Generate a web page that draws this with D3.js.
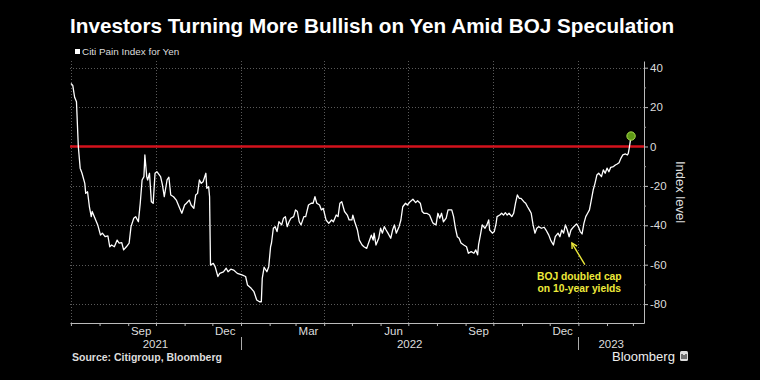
<!DOCTYPE html>
<html>
<head>
<meta charset="utf-8">
<script src="https://cdn.jsdelivr.net/npm/d3@7"></script>
<style>
  body { margin: 0; background: #000; }
  svg { display: block; font-family: "Liberation Sans Narrow", "Liberation Sans", Arial, sans-serif; }
</style>
</head>
<body>
<script>
// Citi Pain Index for Yen
const dates = [
  "2021-07-01","2021-07-03","2021-07-05","2021-07-07","2021-07-09","2021-07-11","2021-07-13","2021-07-16","2021-07-17","2021-07-19","2021-07-21","2021-07-23","2021-07-24","2021-07-27","2021-07-30",
  "2021-08-02","2021-08-04","2021-08-07","2021-08-10","2021-08-12","2021-08-14","2021-08-17","2021-08-20","2021-08-22","2021-08-25","2021-08-27","2021-08-30",
  "2021-09-02","2021-09-04","2021-09-07","2021-09-09","2021-09-12","2021-09-14","2021-09-16","2021-09-18","2021-09-19","2021-09-21","2021-09-22","2021-09-24","2021-09-26","2021-09-28","2021-09-30",
  "2021-10-02","2021-10-06","2021-10-08","2021-10-10","2021-10-13","2021-10-15","2021-10-17","2021-10-20","2021-10-23","2021-10-26","2021-10-29",
  "2021-11-01","2021-11-03","2021-11-06","2021-11-08","2021-11-11","2021-11-13","2021-11-15","2021-11-17","2021-11-19","2021-11-21","2021-11-24","2021-11-25","2021-11-27","2021-11-28","2021-11-29",
  "2021-12-02","2021-12-04","2021-12-07","2021-12-09","2021-12-13","2021-12-16","2021-12-18","2021-12-21","2021-12-24","2021-12-28",
  "2022-01-02","2022-01-06","2022-01-08","2022-01-12","2022-01-15","2022-01-18","2022-01-21","2022-01-23","2022-01-24","2022-01-26","2022-01-29","2022-01-31",
  "2022-02-02","2022-02-03","2022-02-05","2022-02-07","2022-02-09","2022-02-11","2022-02-14","2022-02-16","2022-02-18","2022-02-20","2022-02-22","2022-02-24","2022-02-27",
  "2022-03-01","2022-03-03","2022-03-05","2022-03-07","2022-03-10","2022-03-12","2022-03-15","2022-03-18","2022-03-20","2022-03-22","2022-03-24","2022-03-27","2022-03-29","2022-03-31",
  "2022-04-03","2022-04-06","2022-04-09","2022-04-11","2022-04-14","2022-04-16","2022-04-18","2022-04-20","2022-04-23","2022-04-26","2022-04-28",
  "2022-05-01","2022-05-02","2022-05-04","2022-05-07","2022-05-09","2022-05-12","2022-05-14","2022-05-17","2022-05-19","2022-05-22","2022-05-24","2022-05-25","2022-05-27","2022-05-30",
  "2022-06-01","2022-06-03","2022-06-05","2022-06-07","2022-06-09","2022-06-12","2022-06-14","2022-06-16","2022-06-18","2022-06-21","2022-06-23","2022-06-25","2022-06-28","2022-06-30",
  "2022-07-03","2022-07-06","2022-07-09","2022-07-11","2022-07-14","2022-07-16","2022-07-18","2022-07-21","2022-07-24","2022-07-27","2022-07-28","2022-07-31",
  "2022-08-02","2022-08-04","2022-08-06","2022-08-08","2022-08-11","2022-08-13","2022-08-17","2022-08-19","2022-08-21","2022-08-23","2022-08-25","2022-08-27","2022-08-30",
  "2022-09-02","2022-09-04","2022-09-07","2022-09-10","2022-09-12","2022-09-14","2022-09-15","2022-09-17","2022-09-19","2022-09-22","2022-09-24","2022-09-26","2022-09-27","2022-09-30",
  "2022-10-02","2022-10-04","2022-10-05","2022-10-08","2022-10-10","2022-10-12","2022-10-14","2022-10-16","2022-10-18","2022-10-21","2022-10-23","2022-10-25","2022-10-27","2022-10-29","2022-10-31",
  "2022-11-03","2022-11-05","2022-11-07","2022-11-09","2022-11-11","2022-11-13","2022-11-15","2022-11-17","2022-11-19","2022-11-22","2022-11-25","2022-11-27","2022-11-30",
  "2022-12-02","2022-12-05","2022-12-07","2022-12-10","2022-12-12","2022-12-14","2022-12-16","2022-12-18","2022-12-20","2022-12-22","2022-12-24","2022-12-27","2022-12-30",
  "2023-01-01","2023-01-03","2023-01-05","2023-01-07","2023-01-09","2023-01-11","2023-01-13","2023-01-15","2023-01-17","2023-01-19","2023-01-21","2023-01-23","2023-01-26","2023-01-28","2023-01-30",
  "2023-02-01","2023-02-03","2023-02-05","2023-02-08","2023-02-10","2023-02-12","2023-02-14","2023-02-16","2023-02-18","2023-02-21","2023-02-23","2023-02-24","2023-02-25","2023-02-27"
];
const values = [
  32, 31, 25, 22.7, 0, -11, -13.6, -18.7, -23.8, -23, -30.6, -35.6, -33, -36.4, -39.8,
  -45, -44, -45.8, -45.4, -50.9, -50, -50.9, -47.5, -49, -48.8, -52.5, -50.9,
  -49, -40.7, -36.4, -35.6, -38.2, -28.8, -17, -15.3, -4.3, -15.3, -17, -13.6, -28, -28.8, -13.6,
  -12.8, -15.3, -19.5, -25.5, -17, -15.6, -24.6, -25.5, -27.2, -30.6, -33.9,
  -29.7, -28.8, -27.2, -29.7, -31.4, -24.6, -23.8, -17, -18.7, -17.9, -13.6, -21.2, -20.4, -25.5, -60.2,
  -59.3, -61, -66, -64.4, -63.6, -61.8, -63.6, -62.3, -62.7, -64.4,
  -65.2, -66, -70.3, -72, -73.7, -77.9, -78.8, -78.8, -66.9, -61.3, -63.6, -61,
  -50.9, -49, -41.5, -40.7, -43.2, -38.2, -39.8, -36.4, -35.6, -40.7, -38.2, -36.4, -35.6,
  -32.2, -33, -38.2, -39.8, -35.6, -35.6, -29.7, -28.8, -28.8, -25.5, -28.8, -29.7, -32.2, -31.4,
  -37.3, -39, -37.3, -38.2, -34.8, -35.6, -28.8, -28, -33, -34.8, -37.3,
  -37.3, -34.8, -38.2, -42.4, -47.5, -50, -50.9, -51.7, -49, -45, -47.5, -44, -50, -46.6,
  -41.5, -44, -40.7, -42.4, -44, -46.6, -42.4, -39.8, -44, -40.7, -37.3, -30.6, -28.8, -29.7,
  -28, -26.8, -28.5, -27.5, -28.8, -33, -33.9, -33.9, -34.8, -38.2, -39, -39.8,
  -33.9, -36.4, -33.9, -38.2, -36.4, -32.2, -32.2, -35.6, -41.5, -45.8, -46.6, -49, -50,
  -50.9, -54.2, -53.4, -54.2, -52.5, -55, -50, -45, -39.8, -41.5, -39.8, -37.3, -42.4, -44,
  -43.2, -39, -35.6, -34.8, -33.9, -34.8, -33.6, -34.8, -33.9, -35.6, -33.9, -28.8, -24.6, -26.3, -26.3,
  -28, -28.8, -30.6, -32.2, -33.9, -39.8, -44, -41.5, -40.7, -41.5, -41, -42.4, -45,
  -47.5, -50, -45.8, -44, -45.8, -42.4, -44, -39.8, -42.4, -45.8, -42.4, -40.7, -39.3,
  -40.7, -43.2, -44.4, -39, -35.6, -33.9, -32.2, -27.2, -22.1, -18.7, -14.5, -13.6, -15.3, -11.9, -13.6,
  -11, -12.8, -10.6, -10.2, -9.4, -8.9, -8.2, -6, -4.3, -3.8, -4.3, -3.5, -0.9, 5.3
];
const yTicks = [-80, -60, -40, -20, 0, 20, 40];
const yMinorTicks = [-70, -50, -30, -10, 10, 30];
const monthNames = ["Sep", "Dec", "Mar", "Jun", "Sep", "Dec"];
const monthDates = ["2021-09-15", "2021-12-15", "2022-03-15", "2022-06-15", "2022-09-15", "2022-12-15"];
const years = ["2021", "2022", "2023"];

const parse = d3.timeParse("%Y-%m-%d");
const data = dates.map((d, i) => ({ date: parse(d), value: values[i] }));

const W = 760, H = 380;
const plotL = 70, plotR = 644, plotT = 61, plotB = 323;
const start = parse("2021-06-30"), end = parse("2023-03-13");

const x = d3.scaleTime().domain([start, end]).range([plotL, plotR]);
const y = d3.scaleLinear().domain([-89.6, 43.4]).range([plotB, plotT]);

const svg = d3.select("body").append("svg")
  .attr("width", W)
  .attr("height", H);

svg.append("rect").attr("width", W).attr("height", H).attr("fill", "#000");

// title + legend
svg.append("text")
  .attr("x", 70).attr("y", 33)
  .attr("fill", "#fff")
  .attr("font-size", 20.7)
  .attr("font-weight", "bold")
  .text("Investors Turning More Bullish on Yen Amid BOJ Speculation");

svg.append("rect")
  .attr("x", 75).attr("y", 49).attr("width", 5).attr("height", 5)
  .attr("fill", "#fff");
svg.append("text")
  .attr("x", 82).attr("y", 55)
  .attr("fill", "#ddd")
  .attr("font-size", 9.9)
  .text("Citi Pain Index for Yen");

// grid
const grid = svg.append("g")
  .attr("stroke", "#5a5a5a")
  .attr("stroke-dasharray", "1,2")
  .attr("stroke-width", 1);

grid.selectAll("line.h")
  .data(yTicks.filter(d => d !== 0))
  .join("line")
  .attr("x1", plotL).attr("x2", plotR)
  .attr("y1", d => Math.round(y(d)) + 0.5)
  .attr("y2", d => Math.round(y(d)) + 0.5);

grid.selectAll("line.v")
  .data(d3.timeMonth.every(3).range(start, end))
  .join("line")
  .attr("x1", d => Math.round(x(d)) + 0.5)
  .attr("x2", d => Math.round(x(d)) + 0.5)
  .attr("y1", plotT).attr("y2", plotB);

// zero line
svg.append("line")
  .attr("x1", plotL).attr("x2", plotR)
  .attr("y1", y(0)).attr("y2", y(0))
  .attr("stroke", "#d4121c")
  .attr("stroke-width", 2.4);

// the series
const line = d3.line()
  .x(d => x(d.date))
  .y(d => y(d.value));

svg.append("path")
  .datum(data)
  .attr("d", line)
  .attr("fill", "none")
  .attr("stroke", "#fff")
  .attr("stroke-width", 1.3)
  .attr("stroke-linejoin", "round");

const last = data[data.length - 1];
svg.append("circle")
  .attr("cx", x(last.date))
  .attr("cy", y(last.value))
  .attr("r", 4.2)
  .attr("fill", "#5f9a16")
  .attr("stroke", "#a8dc4c")
  .attr("stroke-width", 1);

// right axis
const yAxis = svg.append("g")
  .attr("transform", `translate(${plotR},0)`)
  .call(d3.axisRight(y).tickValues(yTicks).tickSize(4).tickSizeOuter(0).tickPadding(2)
    .tickFormat(d => String(d)));
yAxis.select(".domain").attr("stroke", "#bbb");
yAxis.selectAll(".tick line").attr("stroke", "#bbb");
yAxis.selectAll(".tick text")
  .attr("fill", "#ddd")
  .attr("font-size", 11.5)
  .attr("font-family", "Liberation Sans Narrow, Liberation Sans, sans-serif");

svg.append("g")
  .attr("transform", `translate(${plotR},0)`)
  .call(d3.axisRight(y).tickValues(yMinorTicks).tickSize(2).tickSizeOuter(0).tickFormat(""))
  .call(g => g.select(".domain").remove())
  .selectAll(".tick line").attr("stroke", "#999");

svg.append("text")
  .attr("transform", `translate(676,${(plotT + plotB) / 2}) rotate(90)`)
  .attr("text-anchor", "middle")
  .attr("fill", "#ddd")
  .attr("font-size", 13)
  .text("Index level");

// bottom axis
const xAxis = svg.append("g")
  .attr("transform", `translate(0,${plotB})`)
  .call(d3.axisBottom(x).ticks(d3.timeMonth.every(1)).tickSize(3).tickSizeOuter(0).tickFormat(""));
xAxis.select(".domain").attr("stroke", "#bbb");
xAxis.selectAll(".tick line").attr("stroke", "#bbb");

svg.append("g")
  .selectAll("text")
  .data(monthNames)
  .join("text")
  .attr("x", (d, i) => x(parse(monthDates[i])))
  .attr("y", plotB + 11.5)
  .attr("text-anchor", "middle")
  .attr("fill", "#ddd")
  .attr("font-size", 11.5)
  .text(d => d);

const yearStarts = years.map(yr => parse(yr + "-01-01"));
svg.append("g")
  .selectAll("text")
  .data(years)
  .join("text")
  .attr("x", (d, i) => {
    const a = Math.max(x(yearStarts[i]), plotL);
    const b = i < years.length - 1 ? x(yearStarts[i + 1]) : plotR;
    return (a + b) / 2;
  })
  .attr("y", plotB + 25)
  .attr("text-anchor", "middle")
  .attr("fill", "#ddd")
  .attr("font-size", 11.5)
  .text(d => d);

svg.append("g")
  .selectAll("line")
  .data(yearStarts.filter(d => d > start))
  .join("line")
  .attr("x1", d => Math.round(x(d)) + 0.5)
  .attr("x2", d => Math.round(x(d)) + 0.5)
  .attr("y1", plotB + 14).attr("y2", plotB + 27)
  .attr("stroke", "#aaa");

// annotation
const tip = [x(parse("2022-12-25")), y(-49)];
const tail = [x(parse("2023-01-08")), y(-60)];
const ann = svg.append("g").attr("stroke", "#eeea3a").attr("stroke-width", 1.4).attr("fill", "none");
ann.append("line")
  .attr("x1", tail[0]).attr("y1", tail[1])
  .attr("x2", tip[0]).attr("y2", tip[1]);
const ang = Math.atan2(tail[1] - tip[1], tail[0] - tip[0]);
const wing = 6, spread = 0.5;
ann.append("path")
  .attr("d", `M${tip[0] + wing * Math.cos(ang - spread)},${tip[1] + wing * Math.sin(ang - spread)}` +
             `L${tip[0]},${tip[1]}` +
             `L${tip[0] + wing * Math.cos(ang + spread)},${tip[1] + wing * Math.sin(ang + spread)}`);

const annX = x(parse("2023-01-02"));
svg.append("text")
  .attr("x", annX).attr("y", y(-67.6))
  .attr("text-anchor", "middle")
  .attr("fill", "#eeea3a")
  .attr("font-size", 10.3)
  .attr("font-weight", "bold")
  .text("BOJ doubled cap");
svg.append("text")
  .attr("x", annX).attr("y", y(-73.7))
  .attr("text-anchor", "middle")
  .attr("fill", "#eeea3a")
  .attr("font-size", 10.3)
  .attr("font-weight", "bold")
  .text("on 10-year yields");

// footer
svg.append("text")
  .attr("x", 72).attr("y", 361)
  .attr("fill", "#ddd")
  .attr("font-size", 10.5)
  .attr("font-weight", "bold")
  .text("Source: Citigroup, Bloomberg");

svg.append("text")
  .attr("x", 612).attr("y", 361)
  .attr("fill", "#eee")
  .attr("font-size", 13)
  .text("Bloomberg");
svg.append("rect")
  .attr("x", 680).attr("y", 351).attr("width", 8).attr("height", 10).attr("rx", 1.5)
  .attr("fill", "#ddd");
svg.append("g")
  .attr("stroke", "#000").attr("stroke-width", 1)
  .selectAll("line")
  .data([0, 1, 2])
  .join("line")
  .attr("x1", d => 682 + d * 2).attr("x2", d => 682 + d * 2)
  .attr("y1", d => 354 + (d % 2)).attr("y2", 359);
</script>
</body>
</html>
